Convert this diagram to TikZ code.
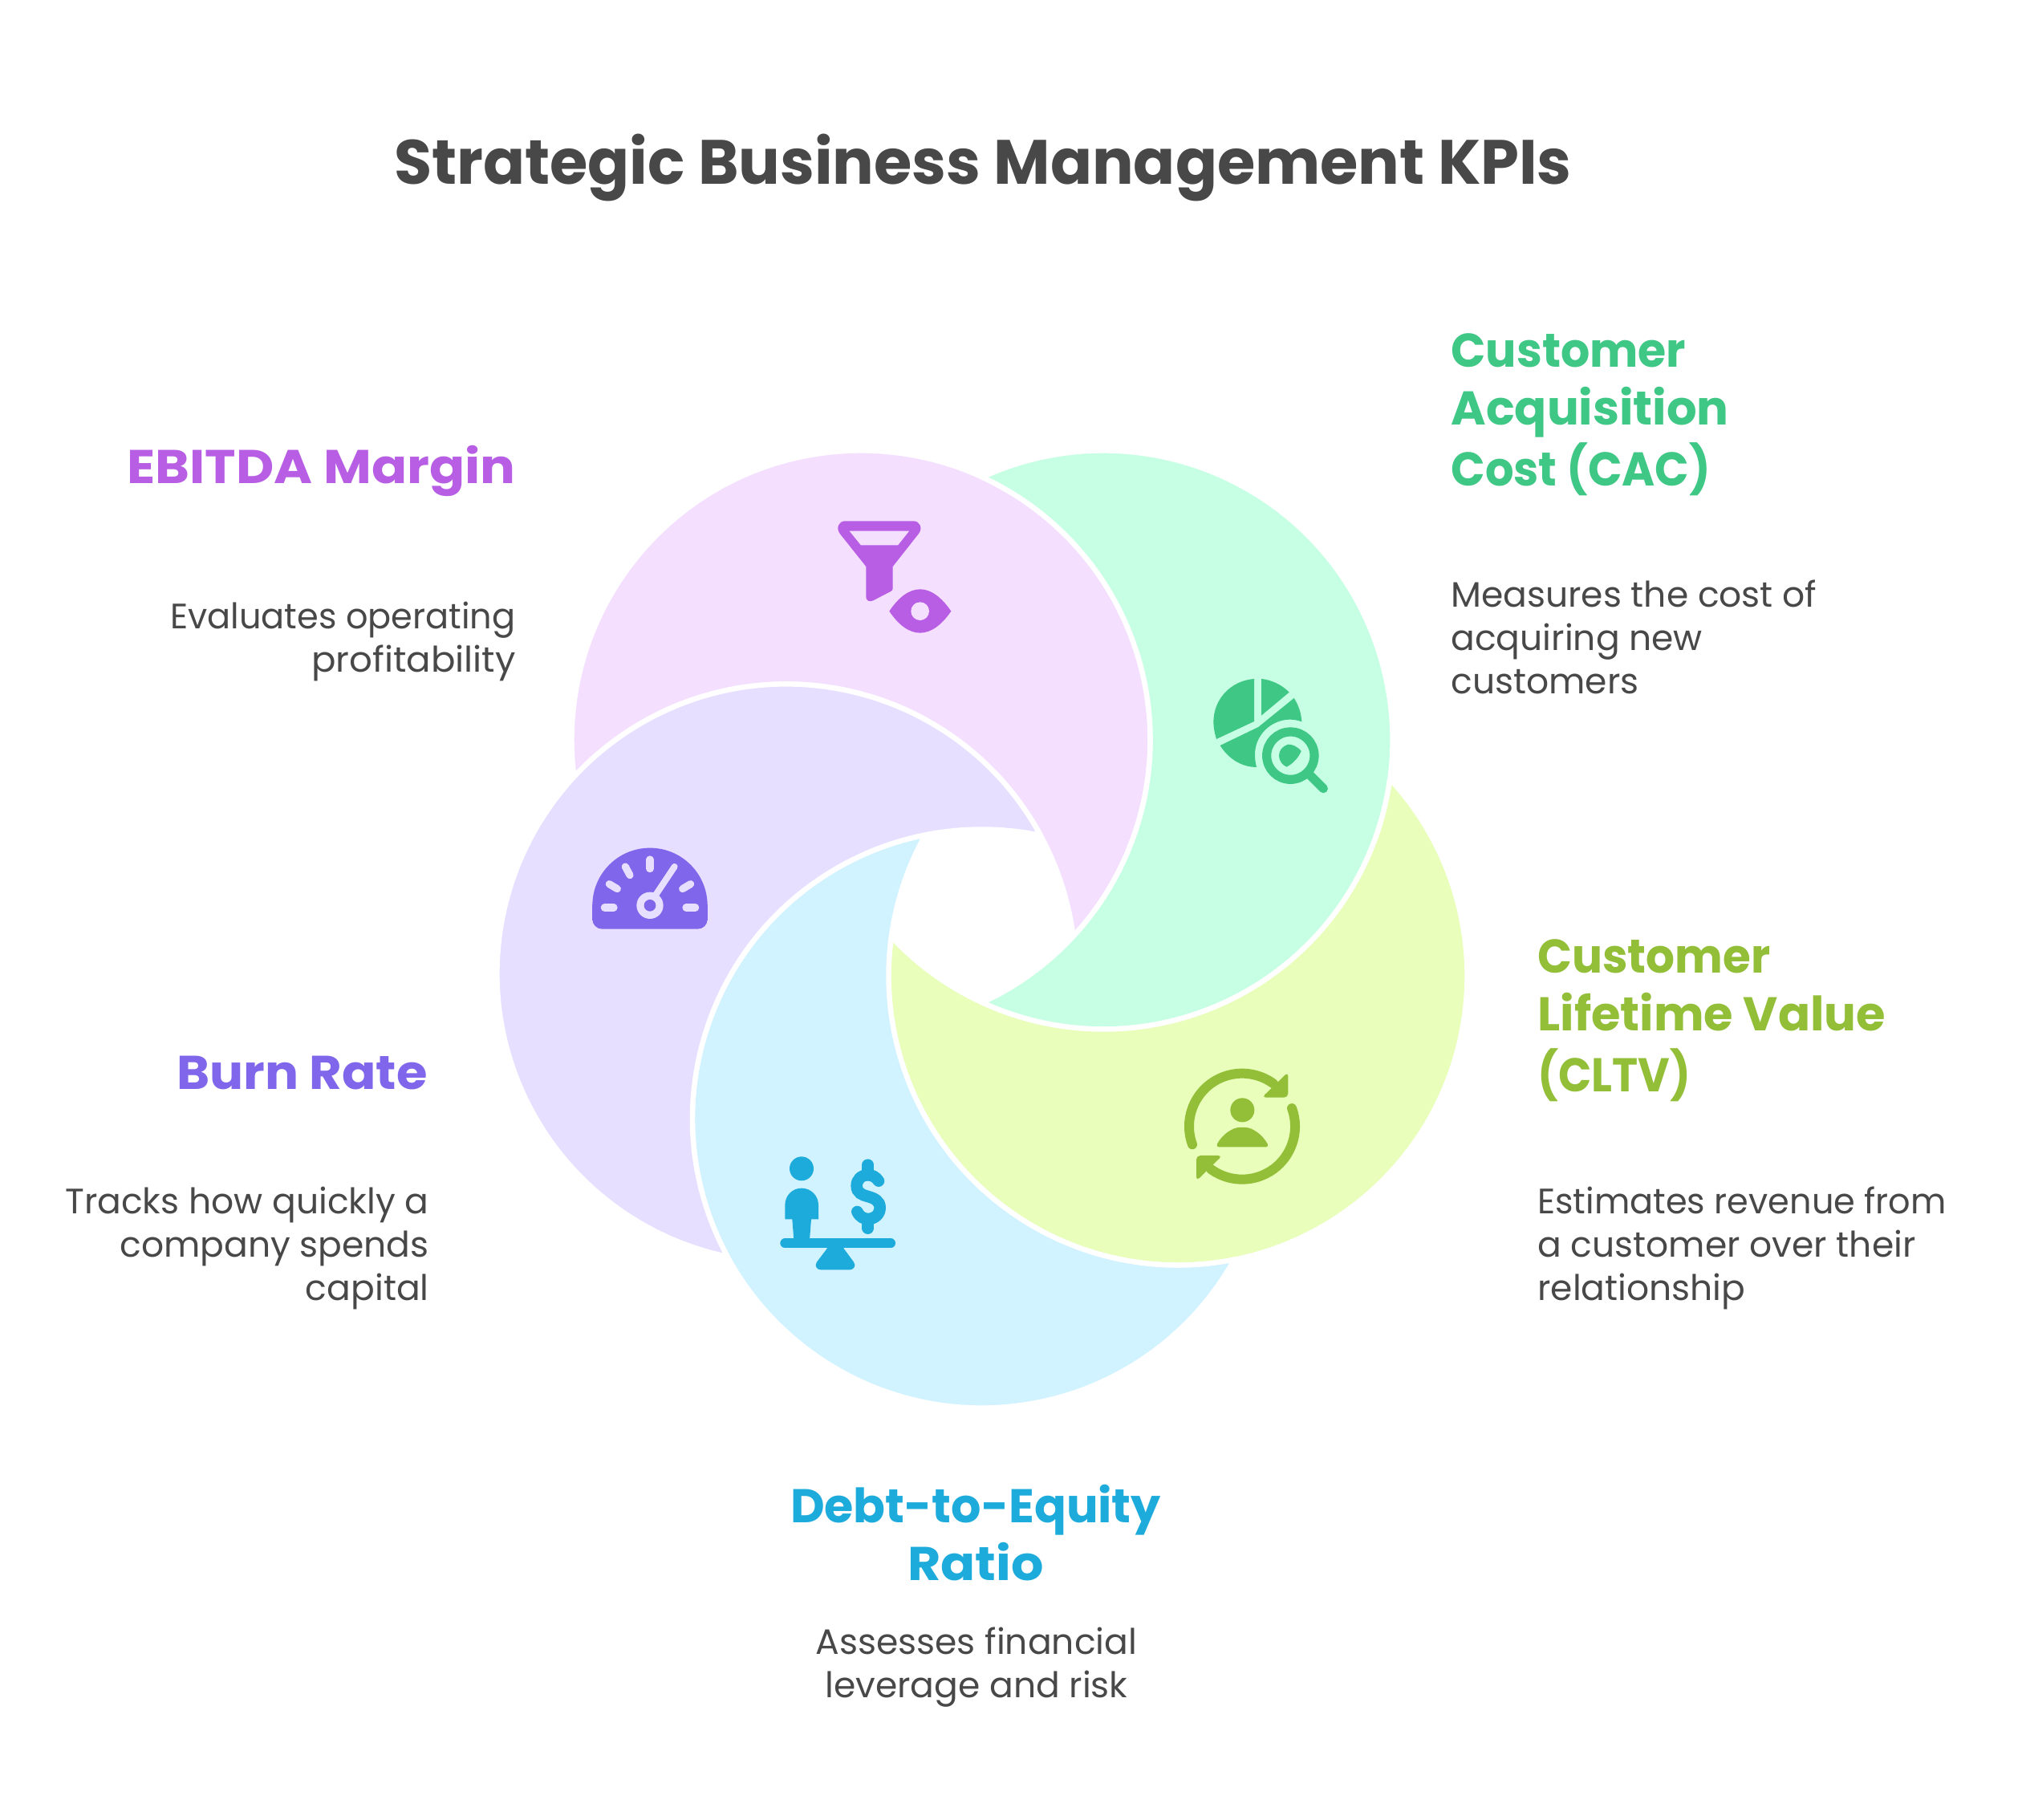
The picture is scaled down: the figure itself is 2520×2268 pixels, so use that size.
\documentclass[tikz,border=0pt]{standalone}
\usepackage{graphicx}
\usepackage{fontspec}
\setmainfont{Poppins}
\newfontfamily\headf[FakeStretch=0.92]{Poppins}
\newfontfamily\bodyf[FakeStretch=1.0]{Poppins}
\definecolor{txt}{HTML}{484848}
\definecolor{pinkL}{HTML}{F4DFFF}\definecolor{pinkD}{HTML}{B85EE5}
\definecolor{greenL}{HTML}{C7FFE4}\definecolor{greenD}{HTML}{3EC785}
\definecolor{yelL}{HTML}{E8FEBA}\definecolor{yelD}{HTML}{92BE38}
\definecolor{bluL}{HTML}{D1F3FF}\definecolor{bluD}{HTML}{1DABDC}
\definecolor{vioL}{HTML}{E6DFFF}\definecolor{vioD}{HTML}{7F66EA}
\newcommand\TL[1]{\begin{tabular}[t]{@{}l@{}}#1\end{tabular}}
\newcommand\TR[1]{\begin{tabular}[t]{@{}r@{}}#1\end{tabular}}
\newcommand\TC[1]{\begin{tabular}[t]{@{}c@{}}#1\end{tabular}}
\newcommand\HS[2]{\scalebox{#1}[1]{#2}}
\def\crR{360.5}
\newcommand\crescent[5]{%
  \pgfmathsetmacro\crPh{atan2(#4-(#2),#3-(#1))}%
  \pgfmathsetmacro\crAl{acos(veclen(#3-(#1),#4-(#2))/(2*\crR))}%
  \draw[white,line width=3.2pt,line join=round,fill=#5]
    ({#1+\crR*cos(\crPh+\crAl)},{#2+\crR*sin(\crPh+\crAl)})
    arc[start angle=\crPh+\crAl,end angle=\crPh-\crAl+360,radius=\crR]
    arc[start angle=\crPh+180+\crAl,end angle=\crPh+180-\crAl,radius=\crR]
    -- cycle;}
\tikzset{
  titlet/.style={inner sep=0,text=txt,anchor=base,font=\headf\bfseries\fontsize{39}{44}\selectfont},
  headt/.style={inner sep=0,font=\headf\bfseries\fontsize{29.5}{36}\selectfont},
  bodyt/.style={inner sep=0,text=txt,font=\bodyf\fontsize{22}{27}\selectfont},
  icon/.style={x=0.16667pt,y=-0.16667pt},
}
\begin{document}
\begin{tikzpicture}[x=0.5pt,y=0.5pt]
\useasboundingbox (0,0) rectangle (2520,2268);
\fill[white] (0,0) rectangle (2520,2268);
% crescents: circle minus the next circle
\crescent{1073}{1346}{980}{1055}{pinkL}
\crescent{1375}{1346}{1073}{1346}{greenL}
\crescent{1468}{1052}{1375}{1346}{yelL}
\crescent{1223.5}{874}{1468}{1052}{bluL}
\crescent{980}{1055}{1223.5}{874}{vioL}
% title
\node[titlet] (title) at (1225,2038) {\HS{1.069}{Strategic Business Management KPIs}};
% labels
\node[headt,text=greenD,anchor=base west] (cacH) at (1808,1810) {\TL{\HS{1.05}{Customer}\\\HS{1.09}{Acquisition}\\\HS{1.03}{Cost (CAC)}}};
\node[bodyt,anchor=base west] (cacB) at (1808,1511) {\TL{Measures the cost of\\acquiring new\\customers}};
\node[headt,text=pinkD,anchor=base east] (ebH) at (643,1665) {\TR{\HS{1.2}{EBITDA Margin}}};
\node[bodyt,anchor=base east] (ebB) at (643,1484) {\TR{\HS{0.978}{Evaluates operating}\\\HS{1.025}{profitability}}};
\node[headt,text=vioD,anchor=base east] (brH) at (533,910) {\TR{\HS{1.15}{Burn Rate}}};
\node[bodyt,anchor=base east] (brB) at (535,755) {\TR{Tracks how quickly a\\company spends\\capital}};
\node[headt,text=yelD,anchor=base west] (clH) at (1916,1055) {\TL{\HS{1.04}{Customer}\\\HS{1.09}{Lifetime Value}\\(CLTV)}};
\node[bodyt,anchor=base west] (clB) at (1916,755) {\TL{\HS{0.978}{Estimates revenue from}\\a customer over their\\relationship}};
\node[headt,text=bluD,anchor=base] (deH) at (1216,370) {\TC{\HS{1.083}{Debt-to-Equity}\\\HS{1.17}{Ratio}}};
\node[bodyt,anchor=base] (deB) at (1217,206) {\TC{Assesses financial\\leverage and risk}};
% funnel + eye icon
\begin{scope}[shift={(1000,1648)},icon]
  \fill[pinkD,even odd rule]
    (160,88) -- (415,88) .. controls (440,88) and (450,115) .. (435,135)
    -- (338,258) -- (338,340) .. controls (338,345) and (335,348) .. (330,351)
    -- (265,385) .. controls (250,392) and (238,385) .. (238,372)
    -- (238,258) -- (140,135) .. controls (125,115) and (135,88) .. (160,88) -- cycle
    (175,125) -- (400,125) -- (358,178) -- (218,178) -- cycle;
  \fill[pinkD] (325,425) .. controls (360,372) and (400,343) .. (440,343)
    .. controls (480,343) and (520,372) .. (556,425)
    .. controls (520,478) and (480,506) .. (440,506)
    .. controls (400,506) and (360,478) .. (325,425) -- cycle;
  \fill[pinkL] (440,425) circle[radius=34];
\end{scope}
% pie + magnifier icon
\begin{scope}[shift={(1490,1448)},icon]
  \fill[greenD] (219,78) .. controls (130,85) and (67,155) .. (67,240)
     .. controls (67,262) and (72,283) .. (78,303) -- (219,237) -- cycle;
  \fill[greenD] (246,78) .. controls (285,82) and (322,100) .. (350,128) -- (246,215) -- cycle;
  \fill[greenD] (368,150) .. controls (385,176) and (395,206) .. (397,238)
     .. controls (380,232) and (365,230) .. (350,230)
     .. controls (280,232) and (222,290) .. (222,360)
     .. controls (222,378) and (224,393) .. (228,408)
     .. controls (172,408) and (122,376) .. (92,327) -- (235,258) -- cycle;
  \draw[greenD,line width=5.6pt] (355,365) circle[radius=89];
  \draw[greenD,line width=5.6pt,line cap=round] (430,440) -- (478,488);
  \fill[greenD] (395,348) .. controls (380,330) and (360,322) .. (345,323)
     .. controls (325,330) and (312,345) .. (312,365)
     .. controls (312,385) and (325,400) .. (340,407)
     .. controls (365,395) and (385,372) .. (395,348) -- cycle;
\end{scope}
% person + cycle icon
\begin{scope}[shift={(1460,948)},icon]
  \fill[yelD] (265,190) circle[radius=45];
  \fill[yelD,rounded corners=2pt] (165,328) .. controls (190,280) and (230,255) .. (265,255)
     .. controls (300,255) and (340,280) .. (365,328) -- cycle;
  \draw[yelD,line width=6pt,line cap=round] (264,251) ++(160:198) arc[start angle=160,end angle=306,radius=198];
  \draw[yelD,line width=6pt,line cap=round] (264,251) ++(-20:198) arc[start angle=-20,end angle=126,radius=198];
  \fill[yelD,rounded corners=2.5pt] (436,48) -- (436,143) -- (338,143) -- cycle;
  \fill[yelD,rounded corners=2.5pt] (93,360) -- (190,360) -- (93,455) -- cycle;
\end{scope}
% person + dollar balance icon
\begin{scope}[shift={(960,838)},icon]
  \fill[bluD] (117,79) circle[radius=45];
  \fill[bluD] (55,268) -- (55,215) .. controls (55,180) and (82,152) .. (117,152)
     .. controls (152,152) and (180,180) .. (180,215) -- (180,268) -- (153,268)
     -- (147,345) -- (88,345) -- (82,268) -- cycle;
  \draw[bluD,line width=6pt,line cap=round] (55,358) -- (450,358);
  \fill[bluD] (212,370) -- (275,370) -- (275,378) -- (312,428)
     .. controls (322,442) and (312,457) .. (298,457) -- (188,457)
     .. controls (174,457) and (164,442) .. (174,428) -- (212,378) -- cycle;
  \draw[bluD,line width=7.3pt,line cap=round]
     (405,125) .. controls (393,108) and (380,103) .. (365,103)
     .. controls (340,103) and (323,120) .. (323,143)
     .. controls (323,170) and (345,178) .. (365,183)
     .. controls (390,190) and (410,200) .. (410,225)
     .. controls (410,250) and (390,267) .. (365,267)
     .. controls (350,267) and (335,260) .. (325,240);
  \draw[bluD,line width=7.3pt,line cap=round] (365,65) -- (365,100);
  \draw[bluD,line width=7.3pt,line cap=round] (365,275) -- (365,302);
\end{scope}
% gauge icon
\begin{scope}[shift={(730,1218)},icon]
  \fill[vioD,rounded corners=6pt] (25,235) -- (25,323) -- (455,323) -- (455,235) -- (240,235) -- cycle;
  \fill[vioD] (240,235) ++(180:215) arc[start angle=180,end angle=360,radius=215] -- cycle;
  \fill[vioD] (25,232) rectangle (455,290);
  \begin{scope}[vioL,line width=4.6pt,line cap=round]
    \draw (70,243) -- (105,243);
    \draw (375,243) -- (410,243);
    \draw (240,63) -- (240,98);
    \draw (148,90) -- (165,122);
    \draw (88,155) -- (118,173);
    \draw (392,155) -- (362,173);
    \draw[line width=4pt] (332,90) -- (262,195);
  \end{scope}
  \fill[vioL] (240,235) circle[radius=50];
  \fill[vioD] (240,235) circle[radius=22];
\end{scope}
\end{tikzpicture}
\end{document}
